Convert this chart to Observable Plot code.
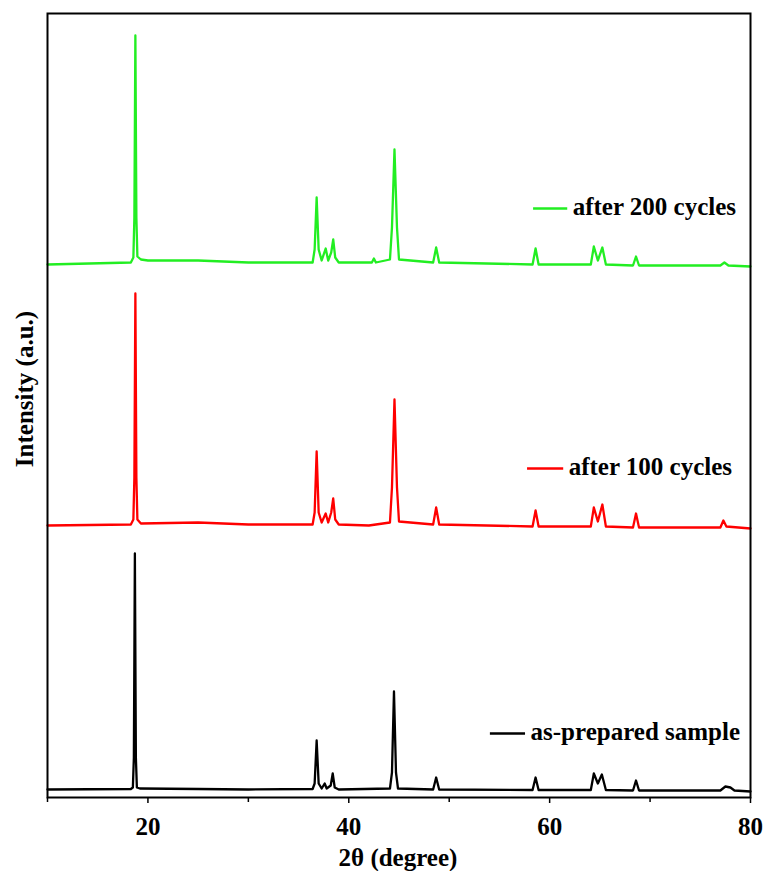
<!DOCTYPE html>
<html><head><meta charset="utf-8">
<script src="https://cdn.jsdelivr.net/npm/d3@7"></script>
<script src="https://cdn.jsdelivr.net/npm/@observablehq/plot@0.6"></script>
<style>body{margin:0;background:#fff;} svg{display:block;}</style>
</head><body><div id="chart"></div>
<script>
const seriesNames = ["as-prepared sample", "after 100 cycles", "after 200 cycles"];
const seriesColors = ["#000000", "#ff0000", "#22ee22"];

// 2θ / intensity pairs (offset stacked, arbitrary units)
const asPrepared = [
[10,8],[18.3,8.5],[18.5,10],[18.6,40],[18.7,244],[18.8,40],[18.9,10],[19.2,9],[25,8.5],[30,8],
[36.4,8.5],[36.6,14],[36.8,57],[37.0,14],[37.3,9],[37.6,14],[37.8,9],[38.2,12],[38.4,24],[38.6,10],[39,8],
[44.1,9],[44.3,25],[44.5,106],[44.7,25],[44.9,9],[48.4,8],[48.7,20],[49.0,8],[58.3,7.5],[58.6,20],[58.9,7.5],
[64.1,7.5],[64.4,24],[64.8,14],[65.2,23],[65.6,7.5],[68.3,7],[68.6,17],[68.9,7],[77,7],[77.5,11],[78,10],[78.4,7],[80,6]
];
const after100 = [
[10,272],[18.3,273],[18.55,278],[18.65,320],[18.75,504],[18.85,320],[18.95,278],[19.3,274],[25,275],[30,273],
[36.4,273],[36.6,285],[36.8,346],[37.0,285],[37.3,275],[37.7,284],[37.95,275],[38.25,285],[38.45,299],[38.65,278],[39,273],
[42,272],[44.1,275],[44.3,310],[44.55,398],[44.8,310],[45.0,276],[48.4,273],[48.7,290],[49.0,273],[58.3,271],[58.6,287],[58.9,271],
[64.1,271],[64.4,290],[64.8,276],[65.25,293],[65.6,271],[68.3,270],[68.6,284],[68.9,270],[77,270],[77.3,277],[77.6,271],[80,269]
];
const after200 = [
[10,533],[18.3,535],[18.55,540],[18.65,580],[18.75,762],[18.85,580],[18.95,541],[19.3,538],[20,537],[25,537],[30,535],
[36.4,535],[36.6,548],[36.8,600],[37.0,548],[37.3,537],[37.7,549],[37.95,537],[38.25,545],[38.45,558],[38.65,540],[39,535],
[42.3,535],[42.5,539],[42.7,535],[44.1,538],[44.3,570],[44.55,648],[44.8,570],[45.0,538],[48.4,535],[48.7,550],[49.0,535],
[58.3,533],[58.6,549],[58.9,533],[64.1,533],[64.4,551],[64.8,537],[65.25,550],[65.6,533],[68.3,532],[68.6,541],[68.9,532],
[77,532],[77.4,535],[77.8,532],[80,531]
];
const majorTicks = [20, 40, 60, 80];
const minorTicks = [10, 30, 50, 70];
const xTitle = "2θ (degree)";
const yTitle = "Intensity (a.u.)";

const seriesData = [asPrepared, after100, after200];
const rows = seriesData.flatMap((arr, i) => arr.map(([x, y]) => ({x, y, s: seriesNames[i]})));

// legend anchors (data coords)
const legend = [
  {s: seriesNames[0], x1: 54.1, x2: 57.6, y: 64},
  {s: seriesNames[1], x1: 57.8, x2: 61.4, y: 329},
  {s: seriesNames[2], x1: 58.4, x2: 61.8, y: 589}
];

const font = "'Liberation Serif', 'Times New Roman', serif";
const chart = Plot.plot({
  width: 766, height: 871,
  marginLeft: 47, marginRight: 16, marginTop: 13, marginBottom: 74,
  style: {fontFamily: font, fontSize: "25px", fontWeight: "bold", background: "#fff", color: "#000"},
  x: {domain: [10, 80]},
  y: {domain: [0, 784], axis: null},
  color: {domain: seriesNames, range: seriesColors},
  marks: [
    Plot.line(rows, {x: "x", y: "y", z: "s", stroke: "s", strokeWidth: 2.3}),
    Plot.axisX({ticks: minorTicks, tickFormat: () => "", tickSize: 5, strokeWidth: 1.5, label: null}),
    Plot.axisX({ticks: majorTicks, tickSize: 6, tickPadding: 14, strokeWidth: 1.5, fontSize: 25, fontWeight: "bold", label: null}),
    Plot.frame({stroke: "#000", strokeWidth: 2}),
    Plot.ruleY(legend, {x1: "x1", x2: "x2", y: "y", stroke: "s", strokeWidth: 2.5}),
    Plot.text(legend, {x: "x2", y: "y", text: "s", textAnchor: "start", dx: 5, dy: -2, fontSize: 25, fontWeight: "bold", fill: "#000"})
  ]
});
const svg = d3.select(chart);
svg.append("text")
  .attr("x", 398).attr("y", 866)
  .attr("text-anchor", "middle")
  .attr("font-family", font).attr("font-size", 25).attr("font-weight", "bold")
  .text(xTitle);
svg.append("text")
  .attr("transform", "translate(33,389) rotate(-90)")
  .attr("text-anchor", "middle")
  .attr("font-family", font).attr("font-size", 25).attr("font-weight", "bold")
  .text(yTitle);
document.getElementById("chart").append(chart);
</script>
</body></html>
